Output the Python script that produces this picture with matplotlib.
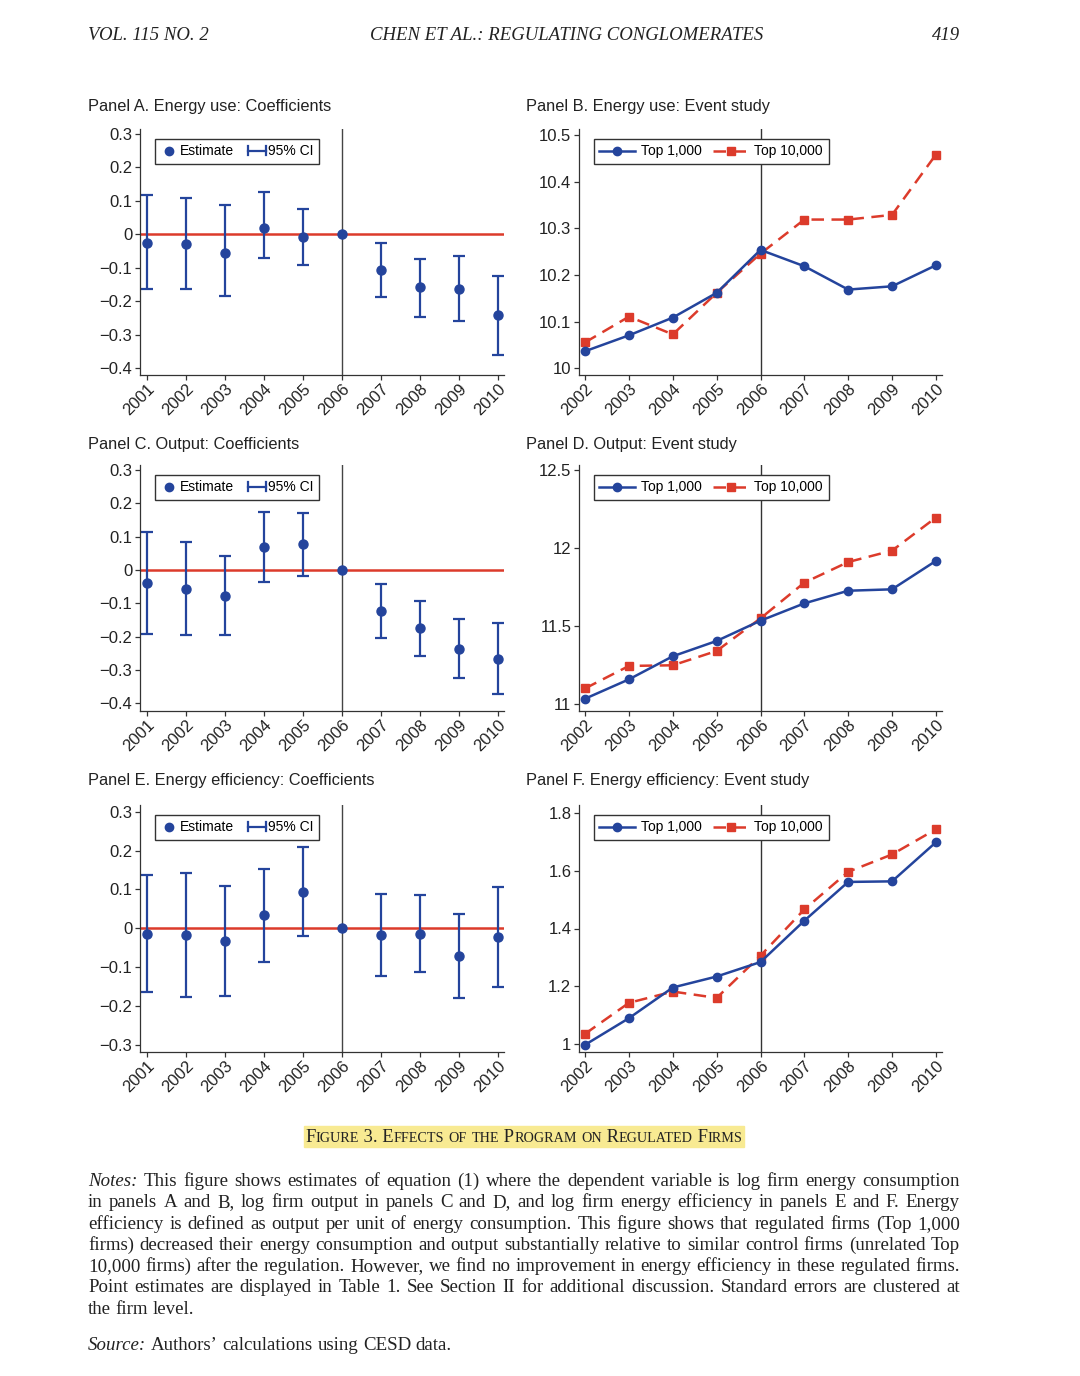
import matplotlib
matplotlib.use("Agg")
import matplotlib.pyplot as plt
from matplotlib.lines import Line2D
from matplotlib.legend_handler import HandlerBase
from matplotlib.patches import Rectangle
import numpy as np

plt.rcParams['font.family'] = ['Liberation Sans', 'DejaVu Sans']

# data
years_coef = [2001, 2002, 2003, 2004, 2005, 2006, 2007, 2008, 2009, 2010]
years_event = [2002, 2003, 2004, 2005, 2006, 2007, 2008, 2009, 2010]

# Panel A - energy use coefficients
energy_est = [-0.026, -0.029, -0.057, 0.020, -0.007, 0.0, -0.107, -0.159, -0.163, -0.242]
energy_lo = [-0.163, -0.163, -0.184, -0.072, -0.091, np.nan, -0.187, -0.246, -0.258, -0.361]
energy_hi = [0.119, 0.110, 0.087, 0.128, 0.077, np.nan, -0.027, -0.073, -0.065, -0.124]

# Panel C - output coefficients
output_est = [-0.040, -0.057, -0.077, 0.068, 0.077, 0.0, -0.124, -0.175, -0.236, -0.267]
output_lo = [-0.193, -0.196, -0.196, -0.037, -0.017, np.nan, -0.204, -0.258, -0.325, -0.373]
output_hi = [0.113, 0.083, 0.042, 0.173, 0.170, np.nan, -0.043, -0.093, -0.146, -0.160]

# Panel E - energy efficiency coefficients
eff_est = [-0.015, -0.018, -0.033, 0.033, 0.094, 0.0, -0.018, -0.015, -0.071, -0.022]
eff_lo = [-0.165, -0.177, -0.174, -0.087, -0.019, np.nan, -0.123, -0.113, -0.178, -0.150]
eff_hi = [0.137, 0.141, 0.109, 0.153, 0.208, np.nan, 0.087, 0.085, 0.036, 0.105]

# Panel B - energy use event study
energy_top1k = [10.037, 10.071, 10.109, 10.162, 10.254, 10.219, 10.169, 10.176, 10.221]
energy_top10k = [10.056, 10.111, 10.073, 10.162, 10.246, 10.319, 10.319, 10.329, 10.458]

# Panel D - output event study
output_top1k = [11.034, 11.158, 11.306, 11.404, 11.534, 11.645, 11.726, 11.735, 11.917]
output_top10k = [11.100, 11.244, 11.248, 11.340, 11.549, 11.778, 11.910, 11.983, 12.195]

# Panel F - energy efficiency event study
eff_top1k = [0.998, 1.090, 1.196, 1.234, 1.284, 1.427, 1.561, 1.563, 1.698]
eff_top10k = [1.036, 1.143, 1.182, 1.160, 1.306, 1.466, 1.596, 1.656, 1.743]

titles = ["Panel A. Energy use: Coefficients", "Panel B. Energy use: Event study",
          "Panel C. Output: Coefficients", "Panel D. Output: Event study",
          "Panel E. Energy efficiency: Coefficients", "Panel F. Energy efficiency: Event study"]

notes_lines = [
    "Notes: This figure shows estimates of equation (1) where the dependent variable is log firm energy consumption",
    "in panels A and B, log firm output in panels C and D, and log firm energy efficiency in panels E and F. Energy",
    "efficiency is defined as output per unit of energy consumption. This figure shows that regulated firms (Top 1,000",
    "firms) decreased their energy consumption and output substantially relative to similar control firms (unrelated Top",
    "10,000 firms) after the regulation. However, we find no improvement in energy efficiency in these regulated firms.",
    "Point estimates are displayed in Table 1. See Section II for additional discussion. Standard errors are clustered at",
    "the firm level.",
]
source_line = "Source: Authors\u2019 calculations using CESD data."
caption = "Figure 3. Effects of the Program on Regulated Firms"

blue = '#24449c'
red = '#dc3b2b'
axcol = '#333333'

W, H = 1080, 1376
fig = plt.figure(figsize=(W / 100, H / 100), dpi=100)


def fx(px):
    return px / W


def fy(py):
    return 1 - py / H


def rect(left, top, right, bottom):
    return [fx(left), fy(bottom), (right - left) / W, (bottom - top) / H]


def fmt(v):
    return '{:g}'.format(round(v, 3)).replace('-', '\u2212')


class CIKey:
    pass


class CIHandler(HandlerBase):
    def create_artists(self, legend, orig_handle, xdescent, ydescent, width, height, fontsize, trans):
        y = height / 2 - ydescent
        x0, x1 = -xdescent, width - xdescent
        h = height * 0.42
        kw = dict(color=blue, lw=1.6, transform=trans)
        return [Line2D([x0, x1], [y, y], **kw),
                Line2D([x0, x0], [y - h, y + h], **kw),
                Line2D([x1, x1], [y - h, y + h], **kw)]


def style_axes(ax, xticks, yticks, ylim, xlim):
    ax.set_xlim(*xlim)
    ax.set_ylim(*ylim)
    ax.set_xticks(xticks)
    ax.set_xticklabels([str(x) for x in xticks], rotation=45, ha='right', va='top',
                       rotation_mode='anchor')
    ax.set_yticks(yticks)
    ax.set_yticklabels([fmt(v) for v in yticks])
    for s in ['top', 'right']:
        ax.spines[s].set_visible(False)
    for s in ['left', 'bottom']:
        ax.spines[s].set_color(axcol)
        ax.spines[s].set_linewidth(0.9)
    ax.tick_params(direction='out', length=3.5, width=0.9, colors=axcol, labelsize=12,
                   labelcolor='#222222')
    ax.tick_params(axis='x', pad=0.8)
    ax.tick_params(axis='y', pad=2)


def coef_panel(r, est, lo, hi, ylim, yticks):
    ax = fig.add_axes(r)
    yrs = np.array(years_coef)
    est, lo, hi = np.array(est), np.array(lo), np.array(hi)
    ax.axhline(0, color=red, lw=1.8, zorder=1)
    ax.axvline(2006, color='#444444', lw=1.0, zorder=1)
    m = ~np.isnan(lo)
    ax.errorbar(yrs[m], est[m], yerr=[est[m] - lo[m], hi[m] - est[m]], fmt='none',
                ecolor=blue, elinewidth=1.6, capsize=4.5, capthick=1.6, zorder=2)
    ax.plot(yrs, est, 'o', color=blue, ms=6.5, zorder=3)
    style_axes(ax, years_coef, yticks, ylim, (2000.82, 2010.15))
    est_h = Line2D([], [], marker='o', ls='none', color=blue, ms=6)
    ax.legend([est_h, CIKey()], ['Estimate', '95% CI'], handler_map={CIKey: CIHandler()},
              loc='upper left', bbox_to_anchor=(0.04, 0.96), borderaxespad=0, ncol=2,
              fontsize=10, handlelength=1.25, handletextpad=0.2, columnspacing=1.0,
              fancybox=False, edgecolor=axcol, framealpha=1, borderpad=0.4)
    return ax


def event_panel(r, top1k, top10k, ylim, yticks):
    ax = fig.add_axes(r)
    ax.axvline(2006, color='#333333', lw=1.0, zorder=1)
    ax.plot(years_event, top10k, color=red, lw=1.8, ls=(0, (5, 3)), marker='s', ms=5.5,
            label='Top 10,000', zorder=2)
    ax.plot(years_event, top1k, color=blue, lw=1.8, marker='o', ms=6, label='Top 1,000', zorder=3)
    style_axes(ax, years_event, yticks, ylim, (2001.86, 2010.14))
    h, l = ax.get_legend_handles_labels()
    ax.legend(h[::-1], l[::-1], loc='upper left', bbox_to_anchor=(0.04, 0.96), borderaxespad=0,
              ncol=2, fontsize=10, handlelength=2.6, handletextpad=0.4, columnspacing=0.8,
              fancybox=False, edgecolor=axcol, framealpha=1, borderpad=0.4)
    return ax


coef_ticks_a = [-0.4, -0.3, -0.2, -0.1, 0, 0.1, 0.2, 0.3]
coef_ticks_e = [-0.3, -0.2, -0.1, 0, 0.1, 0.2, 0.3]

coef_panel(rect(140, 129, 504, 375), energy_est, energy_lo, energy_hi, (-0.421, 0.315), coef_ticks_a)
coef_panel(rect(140, 465, 504, 711), output_est, output_lo, output_hi, (-0.423, 0.315), coef_ticks_a)
coef_panel(rect(140, 805, 504, 1052), eff_est, eff_lo, eff_hi, (-0.318, 0.317), coef_ticks_e)

event_panel(rect(579, 129, 942, 375), energy_top1k, energy_top10k, (9.986, 10.513),
            [10, 10.1, 10.2, 10.3, 10.4, 10.5])
event_panel(rect(579, 465, 942, 711), output_top1k, output_top10k, (10.955, 12.532),
            [11, 11.5, 12, 12.5])
event_panel(rect(579, 805, 942, 1052), eff_top1k, eff_top10k, (0.973, 1.827),
            [1, 1.2, 1.4, 1.6, 1.8])

title_pos = [(88, 107), (526, 107), (88, 444), (526, 444), (88, 781), (526, 781)]
for t, (x, y) in zip(titles, title_pos):
    fig.text(fx(x), fy(y), t, fontsize=11.8, color='#222222', ha='left', va='center')

# journal header
serif = 'Liberation Serif'
fig.text(fx(88), fy(36), 'VOL. 115 NO. 2', family=serif, style='italic', fontsize=13.5,
         color='#222222', va='center')
fig.text(fx(567), fy(36), 'CHEN ET AL.: REGULATING CONGLOMERATES', family=serif, style='italic',
         fontsize=13.5, color='#222222', va='center', ha='center')
fig.text(fx(960), fy(36), '419', family=serif, style='italic', fontsize=13.5, color='#222222',
         va='center', ha='right')

rend = fig.canvas.get_renderer()

# caption in small caps with highlight
fig.patches.append(Rectangle((fx(304), fy(1147)), 440 / W, 21 / H, transform=fig.transFigure,
                             color='#f8ea92', zorder=0))
groups = []
for ch in caption:
    size = 10.2 if ch.islower() else 13.3
    if groups and groups[-1][1] == size:
        groups[-1][0] += ch.upper()
    else:
        groups.append([ch.upper(), size])
arts = [fig.text(0, fy(1142), s, fontsize=sz, family=serif, color='#222222', va='baseline')
        for s, sz in groups]
widths = [a.get_window_extent(rend).width for a in arts]
x = 524 - sum(widths) / 2
for a, w in zip(arts, widths):
    a.set_x(fx(x))
    x += w


def put_line(line, y, justify, size=13.6):
    words = line.split(' ')
    arts = []
    for w in words:
        st = 'italic' if w in ('Notes:', 'Source:') else 'normal'
        arts.append(fig.text(0, fy(y), w, fontsize=size, family=serif, style=st,
                             color='#222222', va='baseline'))
    widths = [a.get_window_extent(rend).width for a in arts]
    if justify:
        gap = (960 - 88 - sum(widths)) / (len(words) - 1)
    else:
        gap = 0.25 * size * 100 / 72
    x = 88
    for a, w in zip(arts, widths):
        a.set_x(fx(x))
        x += w + gap


for i, line in enumerate(notes_lines):
    put_line(line, 1186 + i * 21.3, i < len(notes_lines) - 1)
put_line(source_line, 1350, False)

fig.savefig('out.png', dpi=100)
